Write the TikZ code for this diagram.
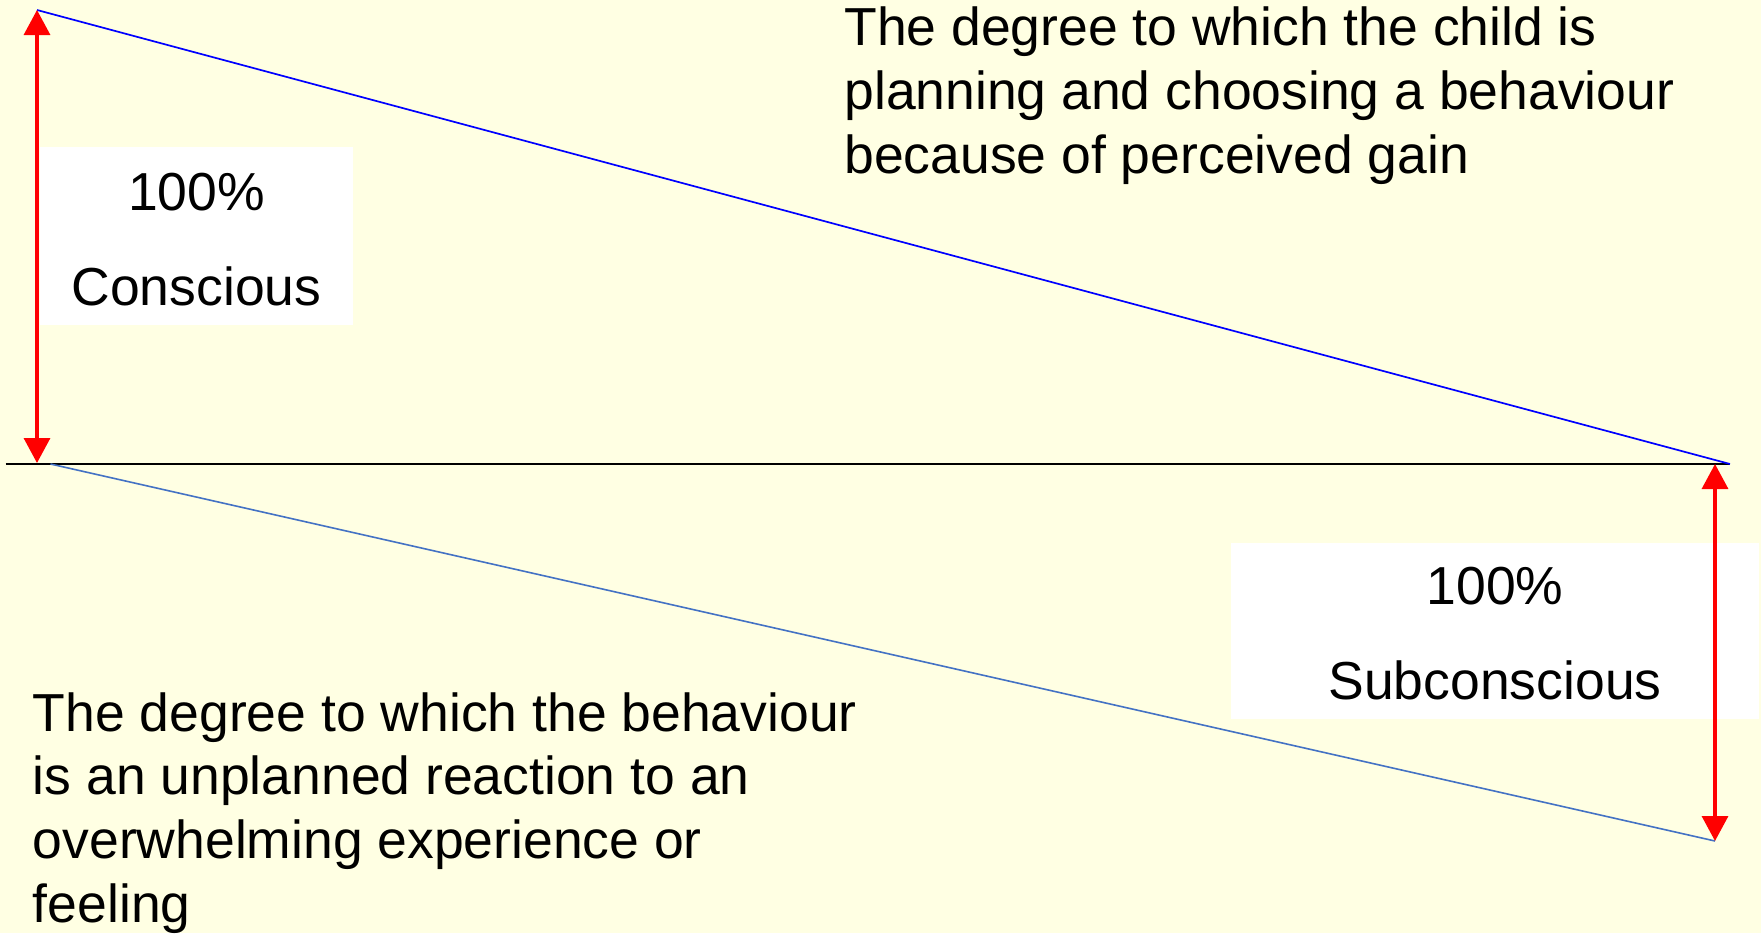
\documentclass[tikz,border=0pt]{standalone}
\usepackage{fontspec}
\setmainfont{Liberation Sans}
\usetikzlibrary{arrows.meta}
\definecolor{bg}{RGB}{255,255,227}
\definecolor{lineblue}{RGB}{0,0,255}
\definecolor{softblue}{RGB}{68,114,196}
\begin{document}
\begin{tikzpicture}[x=0.5pt,y=-0.5pt,
  para/.style={anchor=base west, inner sep=0pt, align=left, font=\fontsize{26.75pt}{31.8pt}\selectfont},
  labelbox/.style={fill=white, inner sep=0pt, align=center, font=\fontsize{26.75pt}{47.5pt}\selectfont},
  dbl/.style={red, line width=1.65pt, {Triangle[length=12.5pt,width=13pt]}-{Triangle[length=12.5pt,width=13pt]}}]
\fill[bg] (0,0) rectangle (1761,933);
\useasboundingbox (0,0) rectangle (1761,933);

\coordinate (TL) at (37,10);
\coordinate (HL) at (5.6,464);
\coordinate (HR) at (1730,464);
\coordinate (LL) at (50.5,464);
\coordinate (BR) at (1715,841);
\coordinate (AL) at (37,463);
\coordinate (AR) at (1715,464);

\node[labelbox, minimum width=156.5pt, minimum height=89pt] (cons) at (196.5,236) {\rule{0pt}{21.8pt}100\%\\Conscious};
\node[labelbox, minimum width=264pt, minimum height=88.25pt] (sub) at (1495,630.75) {\rule{0pt}{21.3pt}100\%\\Subconscious};

\draw[black, line width=1pt] (HL) -- (HR);
\draw[lineblue, line width=0.85pt] (TL) -- (HR);
\draw[softblue, line width=0.8pt] (LL) -- (BR);
\draw[dbl] (TL) -- (AL);
\draw[dbl] (AR) -- (BR);

\node[para] (top) at (844,173) {The degree to which the child is\\planning and choosing a behaviour\\because of perceived gain};
\node[para] (bot) at (32.5,922) {The degree to which the behaviour\\is an unplanned reaction to an\\overwhelming experience or\\feeling};
\end{tikzpicture}
\end{document}
